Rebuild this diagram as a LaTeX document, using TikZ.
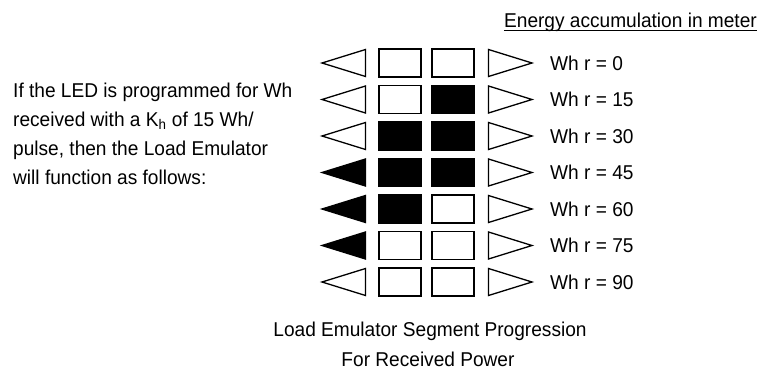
\documentclass[tikz,border=0pt]{standalone}
\usepackage{fontspec}
\setmainfont{Liberation Sans}[FakeStretch=0.955]
\usetikzlibrary{positioning}

\begin{document}
\begin{tikzpicture}[x=1pt, y=-1pt,
    seg/.style={draw, line width=1.8pt, minimum width=42pt,
                minimum height=28pt, inner sep=0pt},
    pointer/.style={draw, line width=1.3pt, line join=miter},
    txt/.style={font=\fontsize{20}{29}\selectfont, inner sep=0pt},
  ]
  \useasboundingbox (0,0) rectangle (763,372);

  % rows: reading / left pointer / segment A / segment B
  \foreach \r/\val/\lf/\af/\bf in {0/0/white/white/white, 1/15/white/white/black,
      2/30/white/black/black, 3/45/black/black/black, 4/60/black/black/white,
      5/75/black/white/white, 6/90/white/white/white} {
    \pgfmathsetmacro{\yy}{63+36.5*\r}
    \node[seg, fill=\af] (segA\r) at (400,\yy) {};
    \node[seg, fill=\bf, right=9pt of segA\r] (segB\r) {};
    \draw[pointer, fill=\lf] (365.5,\yy-13.5) -- (322,\yy) -- (365.5,\yy+13.5) -- cycle;
    \draw[pointer, fill=white] (488.5,\yy-13.5) -- (532,\yy) -- (488.5,\yy+13.5) -- cycle;
    \node[txt, anchor=west] (wh\r) at (550,\yy) {Wh r = \val};
  }

  \node[txt, anchor=east] (hdr) at (757,22) {Energy accumulation in meter};
  \draw[line width=0.8pt] ([yshift=-3pt]hdr.base west) -- ([yshift=-3pt]hdr.base east);

  \node[txt, anchor=north west, align=left] (note) at (13,83)
    {If the LED is programmed for Wh\\received with a K\textsubscript{h} of 15 Wh/\\pulse, then the Load Emulator\\will function as follows:};

  \node[txt] (cap1) at (430,331) {Load Emulator Segment Progression};
  \node[txt] (cap2) at (428,359) {For Received Power};
\end{tikzpicture}
\end{document}
